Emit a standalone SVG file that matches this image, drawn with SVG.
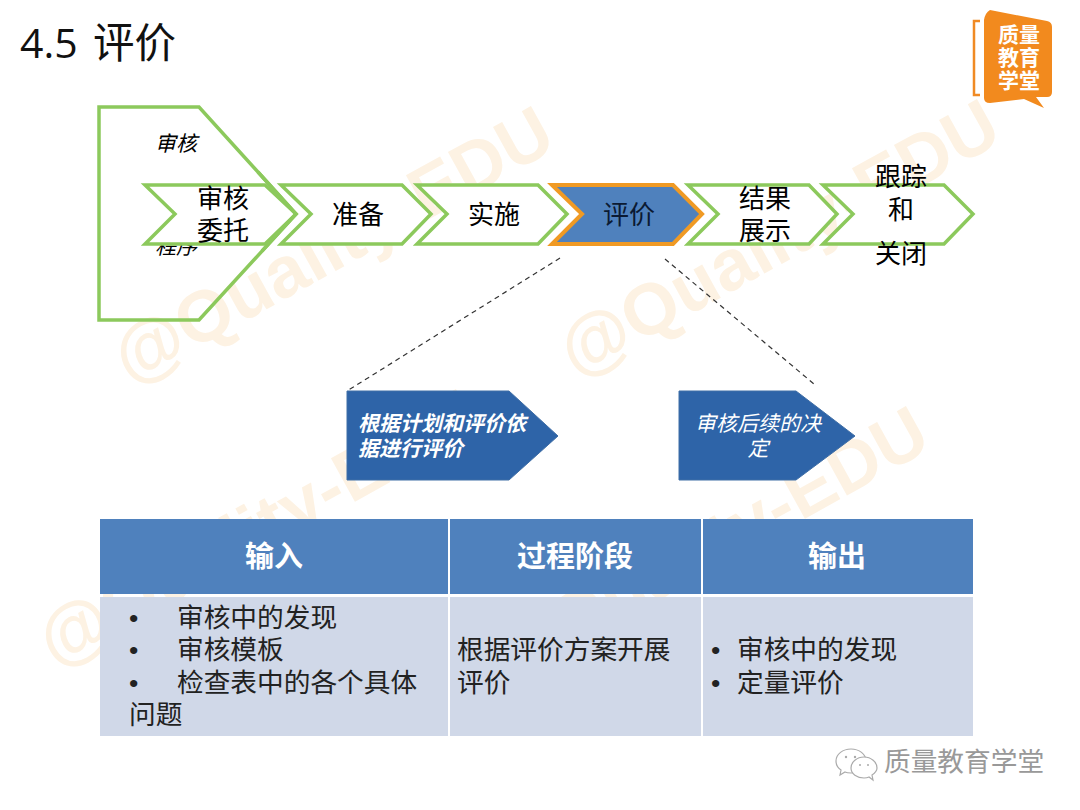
<svg xmlns="http://www.w3.org/2000/svg" width="1080" height="810" viewBox="0 0 1080 810">
<style>
text{font-family:"Liberation Sans","Noto Sans CJK SC",sans-serif;fill:#000}
.cjk{font-family:"Noto Sans CJK SC",sans-serif}
.wm{font-size:72px;font-weight:700;fill:#fdf2e3;font-family:"Liberation Sans","Noto Sans CJK SC",sans-serif}
.ch{fill:#fff;stroke:#8cc95c;stroke-width:3.5}
.s{font-size:26px;text-anchor:middle}
.it{font-size:21px;font-style:italic;font-weight:700;fill:#fff}
.hd{font-size:29px;font-weight:700;fill:#fff;text-anchor:middle}
.bd{font-size:26.7px;fill:#222}
.pen{fill:#2e64a8;stroke:#3f6ea6;stroke-width:1}
</style>
<rect width="1080" height="810" fill="#fff"/>
<g id="watermarks">
<text class="wm" transform="translate(130 385) rotate(-29)">@Quality-EDU</text>
<text class="wm" transform="translate(576 378) rotate(-29)">@Quality-EDU</text>
<text class="wm" transform="translate(55 668) rotate(-29)">@Quality-EDU</text>
<text class="wm" transform="translate(505 685) rotate(-29)">@Quality-EDU</text>
</g>
<g id="title">
<text x="20" y="58" font-size="41" style="font-family:'Open Sans',sans-serif;fill:#111">4.5</text>
<text x="93" y="58" font-size="41.5" class="cjk" style="fill:#111">评价</text>
</g>
<g id="logo">
<path d="M980 21H974V95H980" fill="none" stroke="#f08a24" stroke-width="2.5"/>
<path d="M984 20Q985 13 990 10L1047 21Q1052 22 1052 27V92Q1052 97 1047 97H1036L1044 108L1024 99L990 103Q984 103 984 98Z" fill="#f28a1e"/>
<g font-size="21" font-weight="700" text-anchor="middle" class="cjk">
<text x="1019" y="42" style="fill:#fff">质量</text>
<text x="1019" y="65" style="fill:#fff">教育</text>
<text x="1019" y="88" style="fill:#fff">学堂</text>
</g>
</g>
<g id="node-procedure">
<path class="ch" d="M99 107H199L296 214L199 320H99Z" fill-opacity="0"/>
<text x="155" y="151" font-size="21" font-style="italic">审核</text>
<text x="155" y="254" font-size="21" font-style="italic">程序</text>
</g>
<g id="node-entrust">
<path class="ch" d="M145 185H265L296 214L265 244H145L175 214Z"/>
<path d="M258 172L296 214L262 251" fill="none" stroke="#8cc95c" stroke-width="3.5"/>
<text class="s" x="223" y="208">审核</text><text class="s" x="223" y="240">委托</text>
</g>
<g id="node-prepare"><path class="ch" d="M281 185H402L431 214L402 244H281L311 214Z"/><text class="s" x="358" y="224">准备</text></g>
<g id="node-implement"><path class="ch" d="M417 185H538L567 214L538 244H417L447 214Z"/><text class="s" x="494" y="224">实施</text></g>
<g id="node-evaluate"><path d="M552 185H673L702 214L673 244H552L582 214Z" fill="#4f81bd" stroke="#f09a24" stroke-width="4"/><text class="s" x="629" y="224" style="fill:#0b1a33">评价</text></g>
<g id="node-result"><path class="ch" d="M688 185H809L837 214L809 244H688L718 214Z"/><text class="s" x="765" y="208">结果</text><text class="s" x="765" y="240">展示</text></g>
<g id="node-close"><path class="ch" d="M823 185H944L973 214L944 244H823L853 214Z"/><text class="s" x="901" y="186">跟踪</text><text class="s" x="901" y="219">和</text><text class="s" x="901" y="263">关闭</text></g>
<g id="connectors" fill="none" stroke="#333" stroke-width="1.2" stroke-dasharray="5 4">
<path d="M560 258L347 391"/>
<path d="M665 259L814 384"/>
</g>
<g id="node-plan">
<path class="pen" d="M347 391H509L558 436L509 480H347Z"/>
<text class="it" x="358" y="431">根据计划和评价依</text><text class="it" x="358" y="456">据进行评价</text>
</g>
<g id="node-decision">
<path class="pen" d="M679 391H796L855 436L796 480H679Z"/>
<text class="it" x="758" y="431" text-anchor="middle" style="font-weight:400">审核后续的决</text><text class="it" x="758" y="456" text-anchor="middle" style="font-weight:400">定</text>
</g>
<g id="table">
<rect x="100" y="519" width="873" height="75" fill="#4f81bd"/>
<rect x="100" y="597" width="873" height="139" fill="#d0d8e8"/>
<path d="M449 519V736M702 519V736" stroke="#fff" stroke-width="2"/>
<text class="hd" x="274" y="567">输入</text><text class="hd" x="575" y="567">过程阶段</text><text class="hd" x="837" y="567">输出</text>
<g class="bd">
<text class="bd" x="129" y="627">•</text><text class="bd" x="177" y="627">审核中的发现</text>
<text class="bd" x="129" y="659">•</text><text class="bd" x="177" y="659">审核模板</text>
<text class="bd" x="129" y="692">•</text><text class="bd" x="177" y="692">检查表中的各个具体</text>
<text class="bd" x="129" y="724">问题</text>
<text class="bd" x="457" y="659">根据评价方案开展</text><text class="bd" x="457" y="692">评价</text>
<text class="bd" x="711" y="659">•</text><text class="bd" x="737" y="659">审核中的发现</text>
<text class="bd" x="711" y="692">•</text><text class="bd" x="737" y="692">定量评价</text>
</g>
</g>
<g id="wechat">
<g fill="#fff" stroke="#aaa" stroke-width="1.2">
<path d="M851 749C843 749 836 754 836 761C836 765 838 768 841 770L840 775L845 772C847 773 849 773 851 773C859 773 866 768 866 761C866 754 859 749 851 749Z"/>
<path d="M864 757C857 757 851 762 851 768C851 774 857 778 864 778C866 778 867 778 869 777L873 780L872 775C875 773 877 771 877 768C877 762 871 757 864 757Z"/>
</g>
<g fill="#aaa"><circle cx="846" cy="757" r="1.2"/><circle cx="855" cy="757" r="1.2"/><circle cx="860" cy="765" r="1"/><circle cx="868" cy="765" r="1"/></g>
<text x="884" y="771" font-size="26.7" style="fill:#999">质量教育学堂</text>
</g>
</svg>
